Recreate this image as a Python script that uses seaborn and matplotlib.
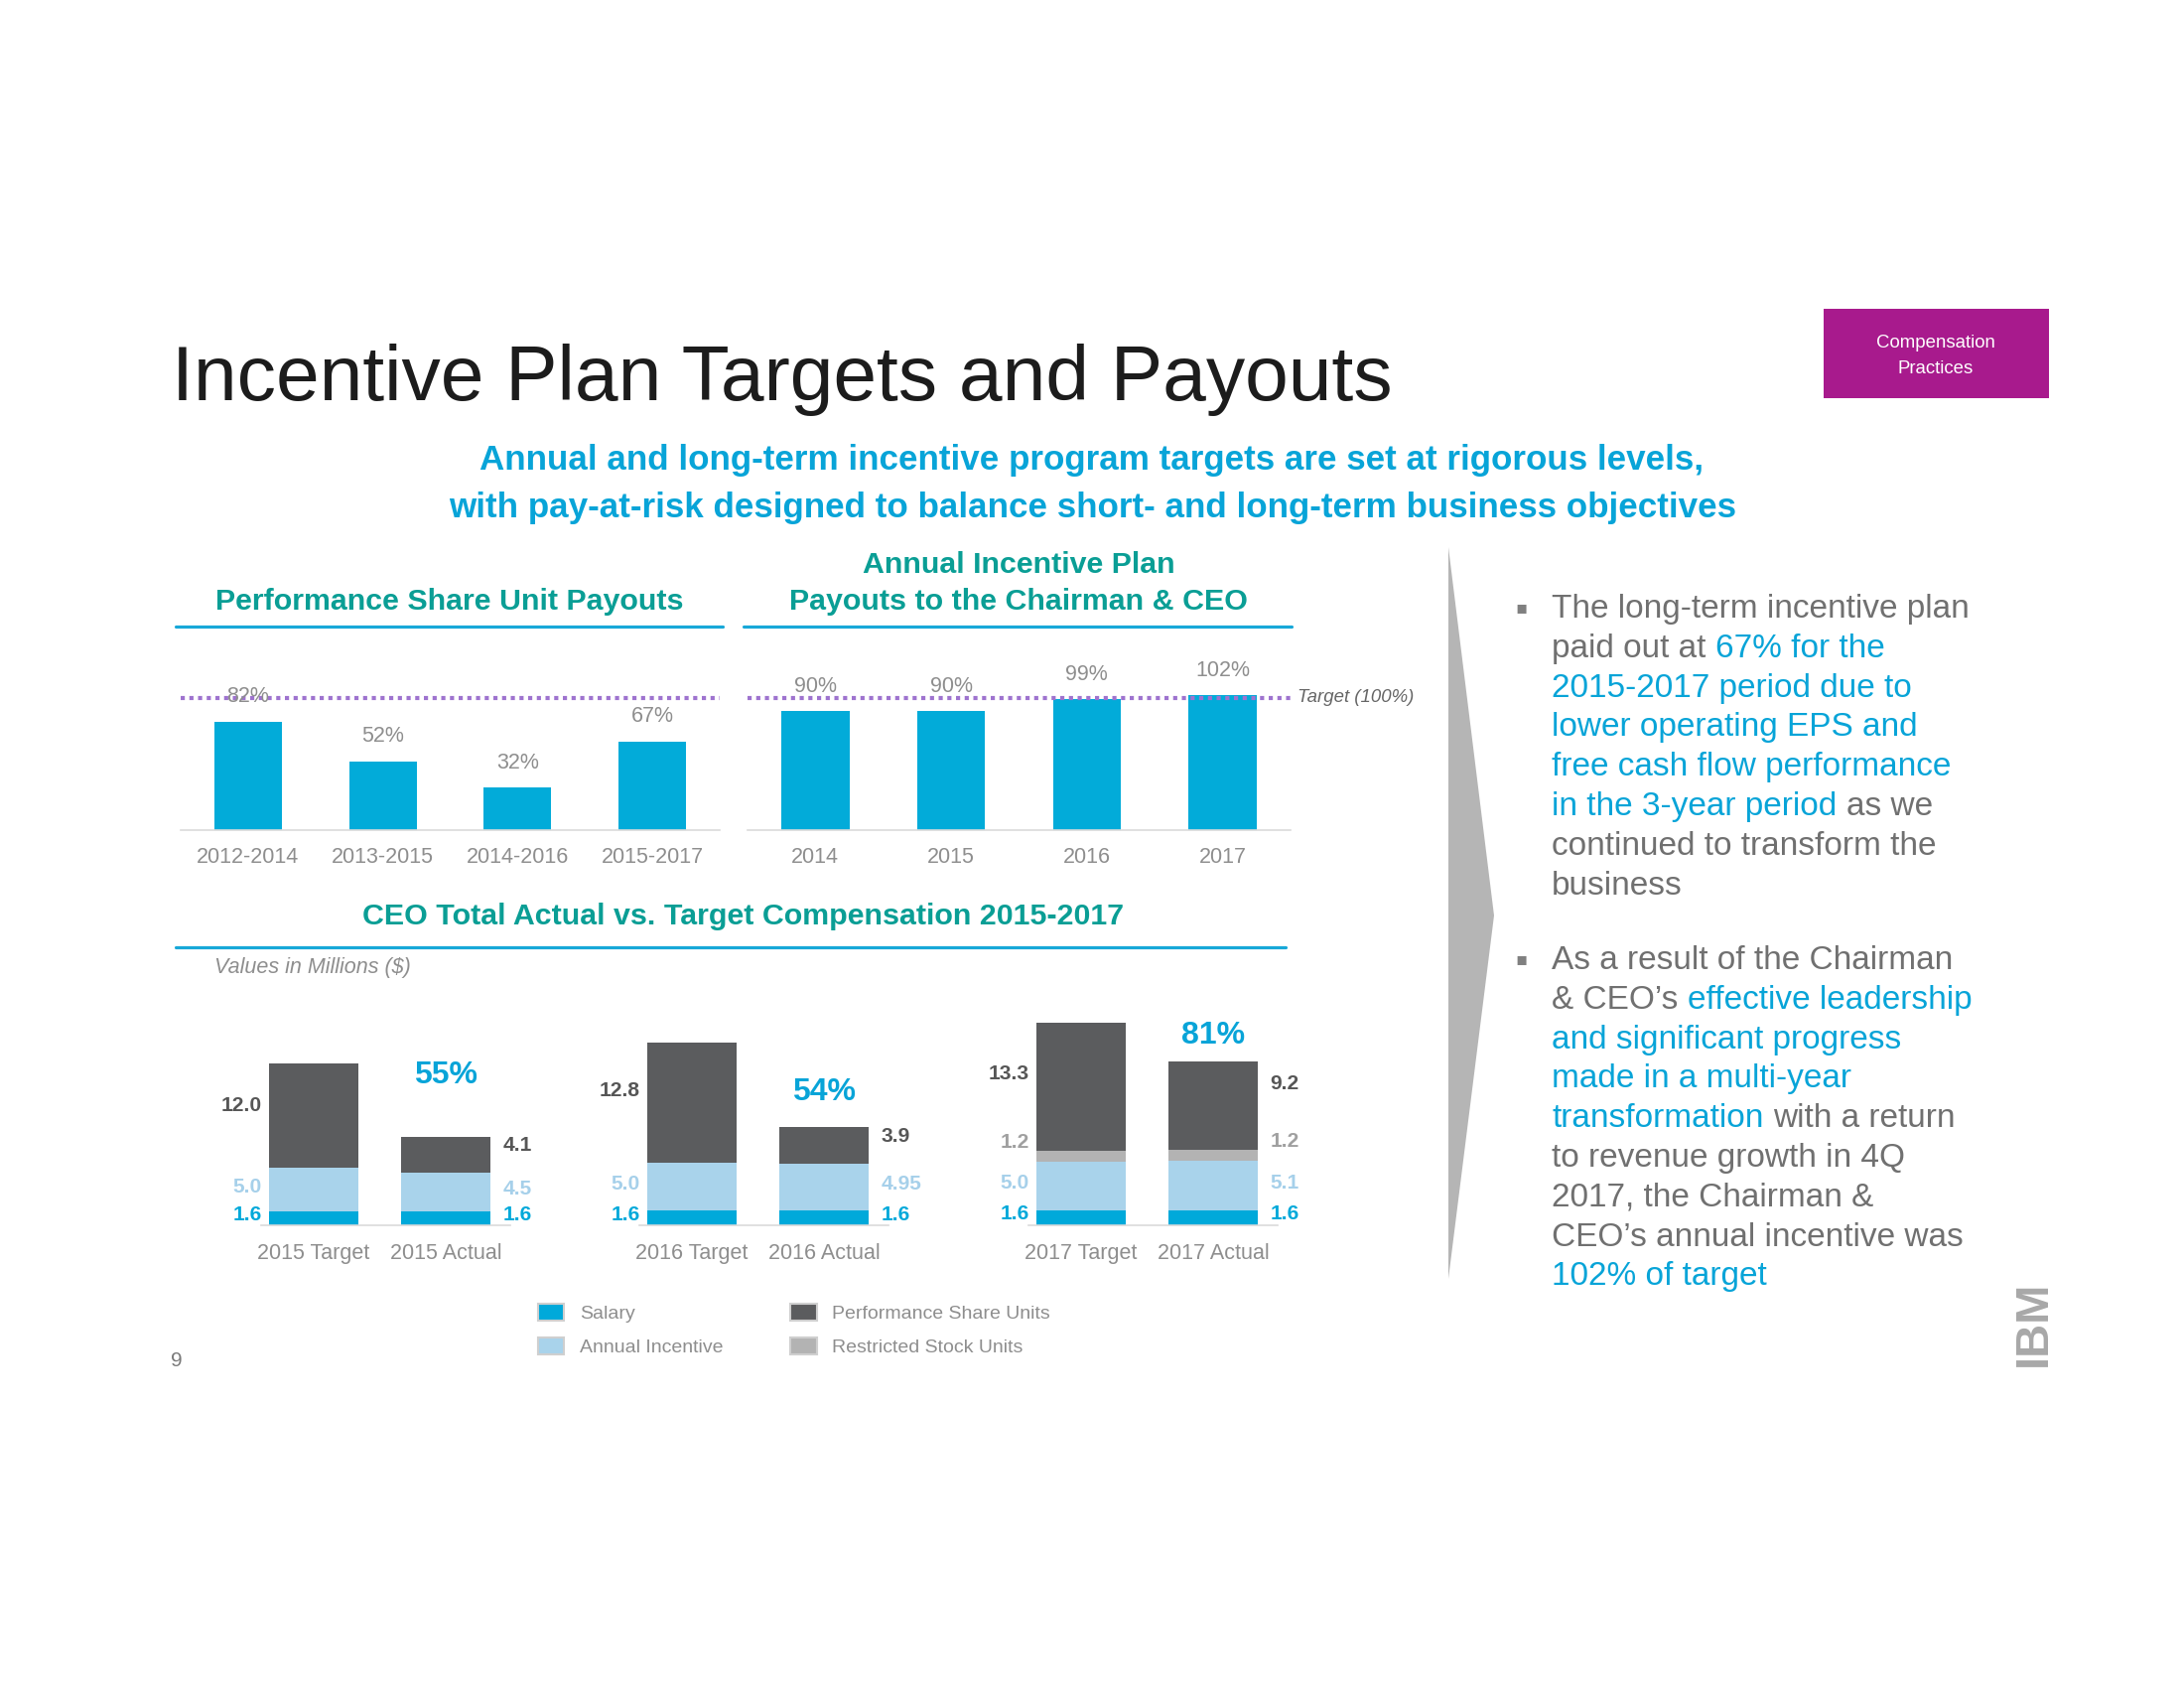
import numpy as np
import matplotlib
matplotlib.use("Agg")
import matplotlib.pyplot as plt
import seaborn as sns
from matplotlib import font_manager
from matplotlib.patches import Patch, Polygon, Rectangle
from matplotlib.lines import Line2D

# ---- values ----
psu_periods = ["2012-2014", "2013-2015", "2014-2016", "2015-2017"]
psu_payout = [82, 52, 32, 67]

aip_years = ["2014", "2015", "2016", "2017"]
aip_payout = [90, 90, 99, 102]

comp_years = ["2015", "2016", "2017"]
salary_target = [1.6, 1.6, 1.6]
salary_actual = [1.6, 1.6, 1.6]
incentive_target = [5.0, 5.0, 5.0]
incentive_actual = [4.5, 4.95, 5.1]
rsu_target = [0.0, 0.0, 1.2]
rsu_actual = [0.0, 0.0, 1.2]
psu_target = [12.0, 12.8, 13.3]
psu_actual = [4.1, 3.9, 9.2]
actual_vs_target = ["55%", "54%", "81%"]

legend_labels = ["Salary", "Annual Incentive", "Performance Share Units", "Restricted Stock Units"]

# ---- colours ----
BAR_BLUE = "#02ABD9"
PURPLE = "#9E73CF"
TEAL = "#0A9E95"
SUB_BLUE = "#08A4D8"
LINE_BLUE = "#18A8D8"
TICK_GRAY = "#8E8E8E"
SAL_C = "#00A9DA"
AI_C = "#A9D3EB"
PSU_C = "#5B5C5E"
RSU_C = "#B3B3B3"
TXT_GRAY = "#707070"

sns.set_theme(style="white")
plt.rcParams["font.family"] = ["Liberation Sans", "DejaVu Sans"]

installed = {f.name for f in font_manager.fontManager.ttflist}
HAS_NARROW = "Liberation Sans Narrow" in installed
NARROW = ["Liberation Sans Narrow" if HAS_NARROW else "Liberation Sans", "DejaVu Sans"]
NS = 1.0 if HAS_NARROW else 0.84

W, H = 2200, 1700
fig = plt.figure(figsize=(W / 100, H / 100), dpi=100)
fig.patch.set_facecolor("white")


def fx(x):
    return x / W


def fy(y):
    return 1 - y / H


def axes_px(left, top, right, bottom):
    return fig.add_axes([fx(left), fy(bottom), (right - left) / W, (bottom - top) / H])


def hline_px(x0, x1, y, color, lw):
    fig.add_artist(Line2D([fx(x0), fx(x1)], [fy(y), fy(y)], color=color, lw=lw,
                          transform=fig.transFigure))


def style_axis(ax, pad, size):
    for s in ("left", "right", "top"):
        ax.spines[s].set_visible(False)
    ax.spines["bottom"].set_color("#dadada")
    ax.spines["bottom"].set_linewidth(1.2)
    ax.set_yticks([])
    ax.set_xlabel("")
    ax.set_ylabel("")
    ax.tick_params(axis="x", length=0, pad=pad, labelsize=size, labelcolor=TICK_GRAY)
    ax.patch.set_alpha(0)


# ---- headings ----
fig.text(fx(173), fy(403), "Incentive Plan Targets and Payouts", fontsize=56.5,
         color="#1c1c1c", va="baseline", ha="left")

fig.add_artist(Rectangle((fx(1837), fy(401)), (2064 - 1837) / W, (401 - 311) / H,
                         transform=fig.transFigure, color="#A81A8D", lw=0))
fig.text(fx(1950), fy(345), "Compensation", family=NARROW, fontsize=16 * NS,
         color="white", ha="center", va="center")
fig.text(fx(1950), fy(372), "Practices", family=NARROW, fontsize=16 * NS,
         color="white", ha="center", va="center")

fig.text(fx(1100), fy(464), "Annual and long-term incentive program targets are set at rigorous levels,",
         family=NARROW, fontweight="bold", fontsize=30 * NS, color=SUB_BLUE, ha="center", va="center")
fig.text(fx(1101), fy(511), "with pay-at-risk designed to balance short- and long-term business objectives",
         family=NARROW, fontweight="bold", fontsize=30 * NS, color=SUB_BLUE, ha="center", va="center")

hdr = dict(family=NARROW, fontweight="bold", fontsize=26 * NS, color=TEAL, ha="center", va="center")
fig.text(fx(453), fy(606), "Performance Share Unit Payouts", **hdr)
fig.text(fx(1026), fy(569), "Annual Incentive Plan", **hdr)
fig.text(fx(1026), fy(606), "Payouts to the Chairman & CEO", **hdr)
fig.text(fx(749), fy(923), "CEO Total Actual vs. Target Compensation 2015-2017", **hdr)
hline_px(177, 728, 631, LINE_BLUE, 2.3)
hline_px(749, 1301, 631, LINE_BLUE, 2.3)
hline_px(177, 1295, 954, LINE_BLUE, 2.3)

fig.text(fx(216), fy(975), "Values in Millions ($)", style="italic", fontsize=15.5,
         color=TICK_GRAY, ha="left", va="center")

# ---- top payout charts ----
PPU_TOP = 1.333   # pixels per percentage point
BASE_TOP = 836
TOP_H = 170


def payout_chart(left, right, cats, vals):
    ax = axes_px(left, BASE_TOP - TOP_H, right, BASE_TOP)
    sns.barplot(x=cats, y=vals, color=BAR_BLUE, saturation=1, width=0.5,
                errorbar=None, linewidth=0, ax=ax)
    ax.set_xlim(-0.5, len(cats) - 0.5)
    ax.set_ylim(0, TOP_H / PPU_TOP)
    ax.axhline(100, color=PURPLE, lw=3, ls=(0, (1, 1.1)), dash_capstyle="butt", zorder=3)
    for i, v in enumerate(vals):
        ax.annotate(f"{v}%", (i, v), xytext=(0, 18), textcoords="offset points",
                    ha="center", va="center", fontsize=15.5, color=TICK_GRAY, zorder=4)
    style_axis(ax, 12, 15.5)
    return ax


payout_chart(182, 725, psu_periods, psu_payout)
ax_aip = payout_chart(753, 1300, aip_years, aip_payout)
ax_aip.annotate("Target (100%)", (1, 100), xycoords=("axes fraction", "data"),
                xytext=(5, 0), textcoords="offset points", ha="left", va="center",
                family=NARROW, style="italic", fontsize=16 * NS, color="#666666",
                annotation_clip=False)

# ---- CEO compensation groups ----
BASE_BOT = 1234
BOT_H = 250
CAT_PX = 133
group_centers = [316, 697, 1089]
group_ppu = [8.75, 9.48, 9.66]
pct_offset_px = [62, 35, 26]
BAR_W = 0.68


def fmt(v):
    return f"{v:.1f}" if round(v, 1) == v else f"{v:.2f}"


seg_font = dict(family=NARROW, fontweight="bold", fontsize=18 * NS, va="center")

for g, year in enumerate(comp_years):
    c = group_centers[g]
    ax = axes_px(c - 0.40 * CAT_PX, BASE_BOT - BOT_H, c + 1.49 * CAT_PX, BASE_BOT)
    cats = [f"{year} Target", f"{year} Actual"]
    sal = [salary_target[g], salary_actual[g]]
    ai = [incentive_target[g], incentive_actual[g]]
    rsu = [rsu_target[g], rsu_actual[g]]
    psu = [psu_target[g], psu_actual[g]]
    total = [s + a + r + p for s, a, r, p in zip(sal, ai, rsu, psu)]
    upto_rsu = [s + a + r for s, a, r in zip(sal, ai, rsu)]
    upto_ai = [s + a for s, a in zip(sal, ai)]

    kw = dict(saturation=1, width=BAR_W, errorbar=None, linewidth=0, ax=ax)
    sns.barplot(x=cats, y=total, color=PSU_C, **kw)
    if any(r > 0 for r in rsu):
        sns.barplot(x=cats, y=upto_rsu, color=RSU_C, **kw)
    sns.barplot(x=cats, y=upto_ai, color=AI_C, **kw)
    sns.barplot(x=cats, y=sal, color=SAL_C, **kw)
    ax.set_xlim(-0.40, 1.49)
    ax.set_ylim(0, BOT_H / group_ppu[g])
    style_axis(ax, 13, 15.5)

    for i in range(2):
        if i == 0:
            xe, off, ha, frac = -BAR_W / 2, -5, "right", 0.6
        else:
            xe, off, ha, frac = 1 + BAR_W / 2, 9, "left", 0.75
        ann = dict(xytext=(off, 0), textcoords="offset points", ha=ha,
                   annotation_clip=False, **seg_font)
        ax.annotate(fmt(sal[i]), (xe, sal[i] / 2 + 0.35), color=SAL_C, **ann)
        ax.annotate(fmt(ai[i]), (xe, sal[i] + ai[i] / 2 + 0.3), color="#A6D0EA", **ann)
        if rsu[i] > 0:
            ax.annotate(fmt(rsu[i]), (xe, upto_rsu[i] + 0.85), color="#A0A0A0", **ann)
        ax.annotate(fmt(psu[i]), (xe, upto_rsu[i] + frac * psu[i]), color="#565656", **ann)

    ax.annotate(actual_vs_target[g], (1, total[1]), xytext=(0, pct_offset_px[g] * 0.72),
                textcoords="offset points", ha="center", va="center", fontsize=23,
                fontweight="bold", color=SUB_BLUE, annotation_clip=False)

# ---- legend ----
handles = [Patch(facecolor=col, edgecolor="#cfcfcf", lw=1.5)
           for col in (SAL_C, AI_C, PSU_C, RSU_C)]
fig.legend(handles, legend_labels, loc="upper left", bbox_to_anchor=(fx(542), fy(1313)),
           ncol=2, frameon=False, fontsize=14, labelcolor=TICK_GRAY, handlelength=1.35,
           handleheight=1.0, handletextpad=0.8, columnspacing=3.5, labelspacing=0.75,
           borderpad=0, borderaxespad=0)

fig.text(fx(178), fy(1371), "9", fontsize=15, color="#7a7a7a", ha="center", va="center")

# ---- chevron divider ----
fig.add_artist(Polygon([(fx(1459), fy(551)), (fx(1505), fy(922)), (fx(1459), fy(1288))],
                       closed=True, transform=fig.transFigure, color="#B5B5B5", lw=0))

# ---- right-hand commentary ----
G, B = TXT_GRAY, SUB_BLUE
para1 = [
    [("The long-term incentive plan", G)],
    [("paid out at ", G), ("67% for the", B)],
    [("2015-2017 period due to", B)],
    [("lower operating EPS and", B)],
    [("free cash flow performance", B)],
    [("in the 3-year period", B), (" as we", G)],
    [("continued to transform the", G)],
    [("business", G)],
]
para2 = [
    [("As a result of the Chairman", G)],
    [("& CEO\u2019s ", G), ("effective leadership", B)],
    [("and significant progress", B)],
    [("made in a multi-year", B)],
    [("transformation", B), (" with a return", G)],
    [("to revenue growth in 4Q", G)],
    [("2017, the Chairman &", G)],
    [("CEO\u2019s annual incentive was", G)],
    [("102% of target", B)],
]

renderer = fig.canvas.get_renderer()
body = dict(fontsize=24)


def width_px(s):
    t = fig.text(0, 0, s, **body)
    w = t.get_window_extent(renderer).width
    t.remove()
    return w


def rich_line(x, y, parts):
    prefix = ""
    for txt, col in parts:
        lead = len(txt) - len(txt.lstrip())
        pre = prefix + txt[:lead]
        off = 0 if not pre else width_px(pre + "l") - width_px("l")
        fig.text(fx(x + off), fy(y), txt.lstrip(), color=col, va="baseline", ha="left", **body)
        prefix += txt


LINE = 39.8
for first_base, para in ((622, para1), (976, para2)):
    fig.text(fx(1532), fy(first_base - 10), "\u25aa", family=["DejaVu Sans"], fontsize=13,
             color="#808080", ha="center", va="center")
    for k, parts in enumerate(para):
        rich_line(1563, first_base + k * LINE, parts)

# ---- IBM mark ----
fig.text(fx(2049), fy(1333), "IBM", rotation=90, fontsize=34, fontweight="bold",
         color="#a8a8a8", ha="center", va="center")
for xs in np.linspace(2032, 2066, 8):
    fig.add_artist(Line2D([fx(xs), fx(xs)], [fy(1280), fy(1386)], color="white", lw=1.8,
                          transform=fig.transFigure))

fig.savefig("out.png", dpi=100, facecolor="white")
